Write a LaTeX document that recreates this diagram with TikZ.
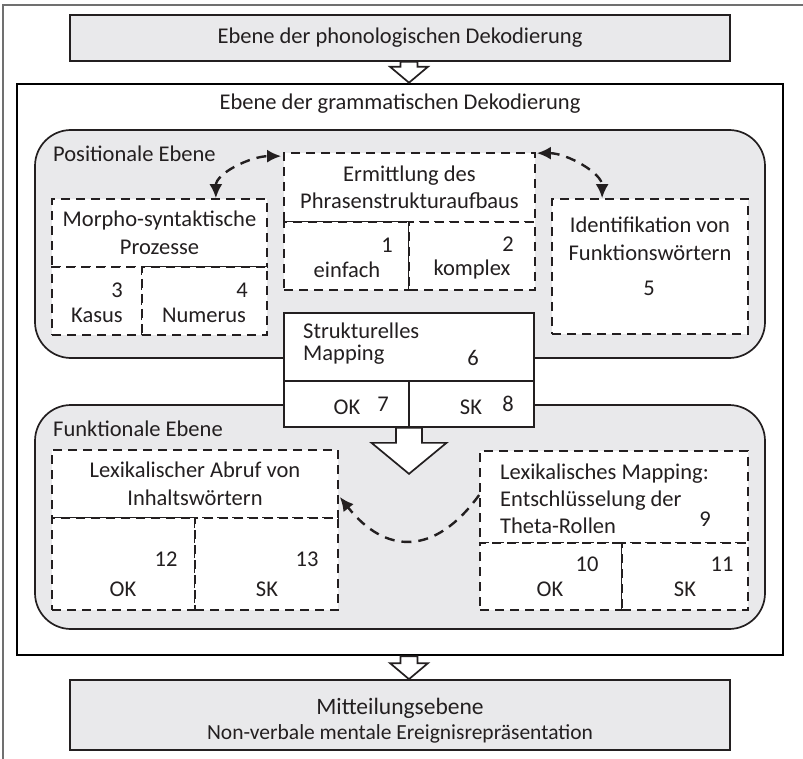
\documentclass[tikz,border=0pt]{standalone}
\usepackage{fontspec}
\setmainfont{Carlito}
\usetikzlibrary{arrows.meta,calc}
\definecolor{planegray}{HTML}{E9E9EB}
\definecolor{inkgray}{HTML}{231F20}
\definecolor{framegray}{HTML}{707070}
\tikzset{
  every node/.style={text=inkgray, inner sep=0pt, font=\fontsize{22.5}{27.5}\selectfont},
  plane/.style={draw=inkgray, fill=planegray, line width=1.7pt},
  level/.style={draw=inkgray, fill=planegray, line width=1.7pt, rounded corners=36pt},
  dbox/.style={draw=inkgray, fill=white, line width=1.7pt, dash pattern=on 9pt off 6pt},
  sbox/.style={draw=inkgray, fill=white, line width=1.7pt},
  hollow/.style={draw=inkgray, fill=white, line width=1.7pt, line join=miter},
  link/.style={draw=inkgray, line width=2.4pt, dash pattern=on 10pt off 7pt},
  >={Latex[length=14pt,width=13pt]}
}

\begin{document}
\begin{tikzpicture}[x=1pt,y=-1pt]
    \useasboundingbox (0,0) rectangle (803,759);

    % Frame (top and left edge only)
    \draw[framegray, line width=2pt] (3,759) -- (3,5) -- (803,5);

    % Top level
    \node[plane, minimum width=660pt, minimum height=46pt] (phon) at (400,38) {Ebene der phonologischen Dekodierung};

    % Grammatical level
    \node[draw=black, line width=2.6pt, minimum width=766pt, minimum height=571pt] (gramm) at (400,369.5) {};
    \node (grammtitle) at (400,104) {Ebene der grammatischen Dekodierung};

    % Positional and functional planes
    \node[level, minimum width=730pt, minimum height=228pt] (posit) at (400,244) {};
    \node[anchor=west] (positlabel) at (53,154) {Positionale Ebene};
    \node[level, minimum width=730pt, minimum height=224pt] (funkt) at (400,517) {};
    \node[anchor=west] (funktlabel) at (53,429) {Funktionale Ebene};

    % Morpho-syntactic processes
    \node[dbox, minimum width=215pt, minimum height=68pt, align=center] (morpho) at (159.5,233) {Morpho-syntaktische\\Prozesse};
    \node[dbox, minimum width=90pt, minimum height=68pt] (kasus) at (97,301) {};
    \node[dbox, minimum width=125pt, minimum height=68pt] (numerus) at (204.5,301) {};
    \node (kasusnum) at (117,290) {3};
    \node (kasustxt) at (97,315) {Kasus};
    \node (numerusnum) at (242,290) {4};
    \node (numerustxt) at (204,315) {Numerus};

    % Phrase structure
    \node[dbox, minimum width=251pt, minimum height=69pt, align=center] (ermittl) at (409.5,187.5) {Ermittlung des\\Phrasenstrukturaufbaus};
    \node[dbox, minimum width=125pt, minimum height=68pt] (einfach) at (346.5,256) {};
    \node[dbox, minimum width=126pt, minimum height=68pt] (komplex) at (472,256) {};
    \node (einfachnum) at (387,245) {1};
    \node (einfachtxt) at (347,270) {einfach};
    \node (komplexnum) at (508,244) {2};
    \node (komplextxt) at (472,270) {komplex};

    % Function words
    \node[dbox, minimum width=196pt, minimum height=135pt] (ident) at (650,266.5) {};
    \node[align=center] (identtxt) at (650,239) {Identifikation von\\Funktionswörtern};
    \node (identnum) at (649,288) {5};

    % Structural mapping
    \node[sbox, minimum width=250pt, minimum height=68pt] (strukt) at (409,347) {};
    \node[sbox, minimum width=125pt, minimum height=46pt] (struktok) at (346.5,404) {};
    \node[sbox, minimum width=125pt, minimum height=46pt] (struktsk) at (471.5,404) {};
    \node[anchor=west, align=left, font=\fontsize{22.5}{22}\selectfont] (strukttxt) at (303,344) {Strukturelles\\Mapping};
    \node (struktnum) at (473,358) {6};
    \node (struktoktxt) at (347,407) {OK};
    \node (struktoknum) at (383,404) {7};
    \node (struktsktxt) at (471,407) {SK};
    \node (struktsknum) at (508,404) {8};

    % Lexical retrieval
    \node[dbox, minimum width=286pt, minimum height=68pt, align=center] (abruf) at (195,484) {Lexikalischer Abruf von\\Inhaltswörtern};
    \node[dbox, minimum width=143pt, minimum height=92pt] (abrufok) at (123.5,564) {};
    \node[dbox, minimum width=143pt, minimum height=92pt] (abrufsk) at (266.5,564) {};
    \node (abrufoknum) at (166,559) {12};
    \node (abrufoktxt) at (123,589) {OK};
    \node (abrufsknum) at (307,559) {13};
    \node (abrufsktxt) at (267,589) {SK};

    % Lexical mapping
    \node[dbox, minimum width=268pt, minimum height=92pt] (lexmap) at (614,497) {};
    \node[dbox, minimum width=142pt, minimum height=67pt] (lexok) at (551,576.5) {};
    \node[dbox, minimum width=126pt, minimum height=67pt] (lexsk) at (685,576.5) {};
    \node[anchor=west, align=left, font=\fontsize{22.5}{27}\selectfont] (lexmaptxt) at (500,499) {Lexikalisches Mapping:\\Entschlüsselung der\\Theta-Rollen};
    \node (lexmapnum) at (705,519) {9};
    \node (lexoknum) at (587,564) {10};
    \node (lexoktxt) at (550,589) {OK};
    \node (lexsknum) at (722,564) {11};
    \node (lexsktxt) at (685,589) {SK};

    % Message level
    \node[plane, minimum width=660pt, minimum height=70pt] (mitteil) at (400,715) {};
    \node[font=\fontsize{23.5}{28}\selectfont] (mitteiltitle) at (400,708) {Mitteilungsebene};
    \node[font=\fontsize{21.5}{26}\selectfont] (mitteiltxt) at (400,734) {Non-verbale mentale Ereignisrepräsentation};

    % Hollow arrows
    \draw[hollow] ($(phon.south -| strukt.center)+(-8.5,0)$) |- ($(gramm.north -| strukt.center)+(-19,-16)$)
        -- (gramm.north -| strukt.center) -- ++(19,-16) -| ($(phon.south -| strukt.center)+(8.5,0)$) -- cycle;
    \draw[hollow] ($(struktok.south)!0.5!(struktsk.south)+(-13,0)$) -- ++(0,15) -- ++(-24.5,0)
        -- ++(37.5,31) -- ++(37.5,-31) -- ++(-24.5,0) -- ++(0,-15) -- cycle;
    \draw[hollow] ($(gramm.south -| strukt.center)+(-8.5,0)$) |- ($(mitteil.north -| strukt.center)+(-19,-16)$)
        -- (mitteil.north -| strukt.center) -- ++(19,-16) -| ($(gramm.south -| strukt.center)+(8.5,0)$) -- cycle;

    % Dashed links
    \draw[link, <->] ($(morpho.north east)+(-52,0)$) .. controls +(0,-25) and +(-30,0) .. ($(ermittl.north west)+(-2,4)$);
    \draw[link, <->] ($(ermittl.north east)+(1,1)$) .. controls +(30,0) and +(0,-25) .. ($(ident.north west)+(51,0)$);
    \draw[link, ->] ($(lexmap.west)+(0,-2)$) .. controls +(-45,62) and +(45,57) .. ($(abruf.east)+(1,13)$);
\end{tikzpicture}
\end{document}
